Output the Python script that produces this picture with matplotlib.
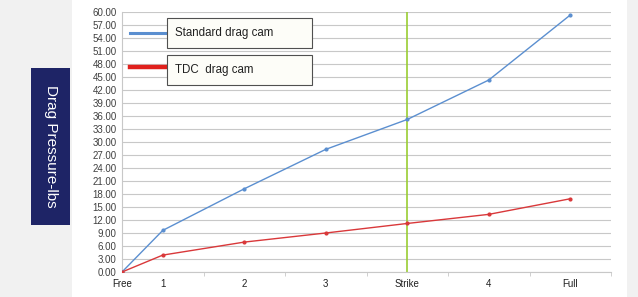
import matplotlib
matplotlib.use("Agg")
import matplotlib.pyplot as plt
from matplotlib.lines import Line2D
from matplotlib.patches import Rectangle

# data
categories = ["Free", "1", "2", "3", "Strike", "4", "Full"]
positions = [0, 0.5, 1.5, 2.5, 3.5, 4.5, 5.5]
standard_cam = [0.0, 9.6, 19.2, 28.3, 35.2, 44.3, 59.3]
tdc_cam = [0.0, 3.9, 6.9, 9.0, 11.2, 13.3, 16.9]
strike_pos = 3.5
y_ticks = [i * 3 for i in range(21)]

plt.rcParams['font.family'] = ['Liberation Sans', 'DejaVu Sans']

fig = plt.figure(figsize=(6.38, 2.97), dpi=100)
fig.patch.set_facecolor("#f1f1f1")

# white chart panel
fig.patches.append(Rectangle((72 / 638, 0), (627 - 72) / 638, 1, transform=fig.transFigure,
                             facecolor="white", edgecolor="none", zorder=-1))

ax = fig.add_axes([122 / 638, 1 - 272 / 297, (611 - 122) / 638, (272 - 12) / 297])
ax.set_zorder(1)
ax.set_facecolor("white")
ax.set_xlim(0, 6)
ax.set_ylim(0, 60)

ax.set_yticks(y_ticks)
ax.set_yticklabels([f"{v:.2f}" for v in y_ticks], fontsize=7, color="#404040")
ax.yaxis.grid(True, color="#c8c8c8", linewidth=0.8)
ax.set_axisbelow(True)
ax.tick_params(axis="y", length=0, pad=4)

ax.set_xticks(positions)
ax.set_xticklabels(categories, fontsize=7, color="#202020")
ax.set_xticks(range(7), minor=True)
ax.tick_params(axis="x", which="major", length=0, pad=5)
ax.tick_params(axis="x", which="minor", length=3, color="#c8c8c8")

for s in ["top", "right"]:
    ax.spines[s].set_visible(False)
ax.spines["left"].set_color("#c8c8c8")
ax.spines["bottom"].set_color("#c8c8c8")

ax.axvline(strike_pos, color="#9acd32", linewidth=1.2, zorder=2)

ax.plot(positions, standard_cam, color="#5b8fd0", linewidth=1.0, marker="o", markersize=2, zorder=3)
ax.plot(positions, tdc_cam, color="#d9383a", linewidth=1.0, marker="o", markersize=2, zorder=3)

# hand-made legend boxes
fig.lines.append(Line2D([130 / 638, 167 / 638], [1 - 33 / 297] * 2, transform=fig.transFigure,
                        color="#5b8fd0", linewidth=2.2, zorder=4))
fig.lines.append(Line2D([130 / 638, 167 / 638], [1 - 67 / 297] * 2, transform=fig.transFigure,
                        color="#e0201c", linewidth=3.2, zorder=4))
for top, label in [(18, "Standard drag cam"), (55, "TDC  drag cam")]:
    fig.patches.append(Rectangle((167 / 638, 1 - (top + 30) / 297), 145 / 638, 30 / 297,
                                 transform=fig.transFigure, facecolor="#fdfdf8",
                                 edgecolor="#505050", linewidth=0.8, zorder=5))
    fig.text(175 / 638, 1 - (top + 15) / 297, label, fontsize=8.3, va="center", ha="left",
             color="#202020", zorder=6)

# y label badge
fig.patches.append(Rectangle((31 / 638, 1 - 225 / 297), 39 / 638, 157 / 297,
                             transform=fig.transFigure, facecolor="#1e2466",
                             edgecolor="none", zorder=5))
fig.text(50.5 / 638, 1 - 146 / 297, "Drag Pressure-lbs", rotation=-90, fontsize=11,
         color="white", ha="center", va="center", zorder=6)

fig.savefig("out.png", dpi=100, facecolor=fig.get_facecolor())
